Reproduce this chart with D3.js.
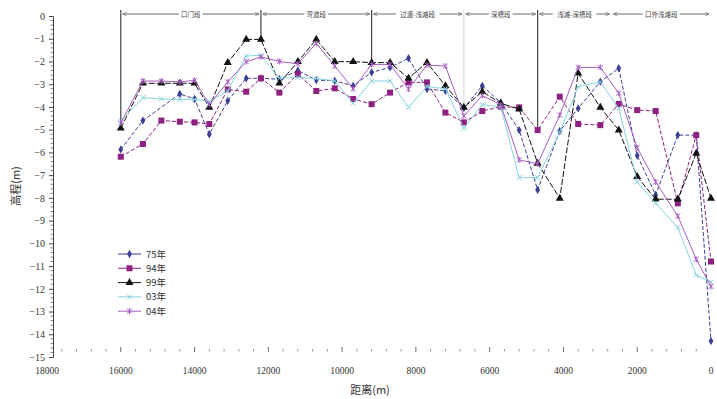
<!DOCTYPE html>
<html><head><meta charset="utf-8">
<script src="https://cdn.jsdelivr.net/npm/d3@7"></script>
<style>body{margin:0;background:#fff}svg{display:block}</style>
</head><body><svg id="c" width="717" height="399"></svg>
<script>
const distances = [16000,15400,14900,14400,14000,13600,13100,12600,12200,11700,11200,10700,10200,9700,9200,8700,8200,7700,7200,6700,6200,5700,5200,4700,4100,3600,3000,2500,2000,1500,900,400,0];
const y75 = [-5.87,-4.6,null,-3.43,-3.65,-5.2,-3.73,-2.74,-2.74,-2.78,-2.4,-2.82,-2.85,-3.07,-2.48,-2.26,-1.86,-3.21,-3.29,-4.05,-3.07,-3.81,-5.02,-7.65,-5.06,-4.06,-2.89,-2.3,-6.14,-7.87,-5.24,-5.24,-14.3];
const y94 = [-6.19,-5.63,-4.6,-4.65,-4.68,-4.75,-3.23,-3.33,-2.74,-3.37,-2.55,-3.3,-3.18,-3.65,-3.88,-3.37,-2.92,-2.92,-4.25,-4.68,-4.18,-3.99,-4.02,-5.02,-3.55,-4.75,-4.8,-3.87,-4.14,-4.18,-8.24,-5.24,-10.8];
const y99 = [-4.94,-2.96,-2.96,-2.96,-2.96,-4.02,-2.05,-1.03,-1.03,-2.96,-2.01,-1.03,-2.01,-2.01,-2.05,-2.05,-2.74,-2.05,-3.07,-4.02,-3.33,-3.84,-4.1,-6.48,-8.02,-2.52,-4.02,-5.02,-7.07,-8.06,-8.06,-6.04,-8.02];
const y03 = [-4.6,-3.59,-3.65,-3.67,-3.67,-3.76,-3.3,-1.76,-1.73,-2.74,-2.7,-2.75,-2.85,-3.84,-2.86,-2.86,-4.02,-3.1,-3.2,-4.94,-3.9,-4.0,-7.11,-7.11,-5.1,-3.11,-2.9,-4.06,-7.3,-8.24,-9.3,-11.4,-11.7];
const y04 = [-4.7,-2.86,-2.86,-2.9,-2.83,-3.9,-2.9,-2.01,-1.8,-2.0,-2.1,-1.2,-2.2,-3.2,-2.13,-2.13,-3.21,-2.16,-2.2,-4.4,-3.5,-3.9,-6.33,-6.5,-4.36,-2.26,-2.26,-3.4,-5.8,-7.3,-8.8,-10.7,-11.9];
const seriesNames = ["75年","94年","99年","03年","04年"];
const yTicks = [0,-1,-2,-3,-4,-5,-6,-7,-8,-9,-10,-11,-12,-13,-14,-15];
const xTicks = [18000,16000,14000,12000,10000,8000,6000,4000,2000,0];
const sectionBounds = [16000,12200,9200,6700,4700,2700,0];
const sectionNames = ["口门段","弯道段","过渡-浅滩段","深槽段","浅滩-深槽段","口外浅滩段"];
const dividerDist = [16000,12200,9200,6700,4700];
const dividerEnd = [-4.9,-1.0,-2.05,-4.0,-5.0];

const svg = d3.select("#c");
const x = d3.scaleLinear().domain([18000,0]).range([47,711]);
const y = d3.scaleLinear().domain([0,-15]).range([16,357]);
const serif = "'Liberation Serif','DejaVu Serif',serif";
const cjk = "'Noto Sans CJK SC','Liberation Serif',serif";

// y axis
const axX = 53;
const yAx = svg.append("g").attr("transform",`translate(${axX},0)`)
  .call(d3.axisLeft(y).tickValues(yTicks).tickSize(4).tickFormat(d=>d===0?"0":"\u2212"+Math.abs(d)));
yAx.select(".domain").attr("stroke","#444");
yAx.selectAll(".tick line").attr("stroke","#444");
yAx.selectAll("text").attr("font-family",serif).attr("font-size",10).attr("fill","#333").attr("x",-8);
const yMinor = d3.range(0,-15.01,-0.2).filter(v=>Math.abs(v-Math.round(v))>0.01);
svg.append("g").selectAll("line").data(yMinor).join("line")
  .attr("x1",axX-2.5).attr("x2",axX).attr("y1",d=>y(d)).attr("y2",d=>y(d)).attr("stroke","#666").attr("stroke-width",0.8);

// x axis (ticks only)
const tickY = 350;
const xMinor = d3.range(17600,0,-400).filter(v=>v%2000!==0);
svg.append("g").selectAll("line").data(xMinor).join("line")
  .attr("x1",d=>x(d)).attr("x2",d=>x(d)).attr("y1",tickY-1).attr("y2",tickY+1.5).attr("stroke","#777").attr("stroke-width",0.8);
svg.append("g").selectAll("line").data(xTicks.filter(d=>d!==18000&&d!==0)).join("line")
  .attr("x1",d=>x(d)).attr("x2",d=>x(d)).attr("y1",tickY-3).attr("y2",tickY+2).attr("stroke","#555").attr("stroke-width",0.9);
svg.append("g").selectAll("text").data(xTicks).join("text")
  .attr("x",d=>x(d)).attr("y",374).attr("text-anchor","middle")
  .attr("font-family",serif).attr("font-size",9.5).attr("fill","#333").text(d=>d);

// axis titles
svg.append("text").attr("transform","translate(20,186) rotate(-90)").attr("text-anchor","middle")
  .attr("font-family",cjk).attr("font-size",11).attr("fill","#333").text("高程(m)");
svg.append("text").attr("x",370).attr("y",394).attr("text-anchor","middle")
  .attr("font-family",cjk).attr("font-size",11).attr("fill","#333").text("距离(m)");

// divider lines
svg.append("g").selectAll("line").data(dividerDist).join("line")
  .attr("x1",d=>x(d)).attr("x2",d=>x(d)).attr("y1",10).attr("y2",(d,i)=>y(dividerEnd[i]))
  .attr("stroke",(d,i)=>i===3?"#ddd":"#444").attr("stroke-width",1.2);

// section annotation
const defs = svg.append("defs");
defs.append("marker").attr("id","ar").attr("viewBox","0 0 8 8").attr("refX",8).attr("refY",4)
  .attr("markerWidth",7).attr("markerHeight",5).attr("orient","auto-start-reverse")
  .append("path").attr("d","M0,0 L8,4 L0,8").attr("fill","none").attr("stroke","#444").attr("stroke-width",1);
const secs = sectionNames.map((n,i)=>({n,a:sectionBounds[i],b:sectionBounds[i+1]}));
const sg = svg.append("g");
sg.selectAll("line").data(secs).join("line")
  .attr("x1",d=>x(d.a)+2).attr("x2",d=>x(d.b)-2).attr("y1",14).attr("y2",14)
  .attr("stroke","#444").attr("stroke-width",0.8)
  .attr("marker-start","url(#ar)").attr("marker-end","url(#ar)");
sg.selectAll("rect").data(secs).join("rect")
  .attr("x",d=>(x(d.a)+x(d.b))/2-d.n.length*3.3-2).attr("y",10).attr("width",d=>d.n.length*6.6+4).attr("height",8).attr("fill","#fff");
sg.selectAll("text").data(secs).join("text")
  .attr("x",d=>(x(d.a)+x(d.b))/2).attr("y",17).attr("text-anchor","middle")
  .attr("font-family",cjk).attr("font-size",6.5).attr("fill","#444").text(d=>d.n);

// series
const cfg = [
  {vals:y75,color:"#3b3f8f",dash:"4,2",marker:"diamond"},
  {vals:y94,color:"#8e2180",dash:"4,2",marker:"square"},
  {vals:y99,color:"#111",dash:"6,2",marker:"triangle"},
  {vals:y03,color:"#86d2e0",dash:null,marker:"x"},
  {vals:y04,color:"#a55cc0",dash:null,marker:"star"}
];
function drawMarker(g,type,color){
  if(type==="diamond") g.append("path").attr("d",d3.symbol(d3.symbolDiamond,20)()).attr("fill",color);
  else if(type==="square") g.append("rect").attr("x",-3).attr("y",-3).attr("width",6).attr("height",6).attr("fill",color);
  else if(type==="triangle") g.append("path").attr("d",d3.symbol(d3.symbolTriangle,28)()).attr("fill",color);
  else if(type==="x") g.append("path").attr("d","M-2.5,-2.5L2.5,2.5M-2.5,2.5L2.5,-2.5").attr("stroke",color).attr("stroke-width",1);
  else g.append("path").attr("d","M-2.5,-2.5L2.5,2.5M-2.5,2.5L2.5,-2.5M0,-3L0,3").attr("stroke",color).attr("stroke-width",1);
}
const line = d3.line().x(d=>x(d[0])).y(d=>y(d[1]));
cfg.forEach(c=>{
  const pts = distances.map((d,i)=>[d,c.vals[i]]).filter(p=>p[1]!==null);
  svg.append("path").datum(pts).attr("d",line).attr("fill","none").attr("stroke",c.color)
    .attr("stroke-width",1).attr("stroke-dasharray",c.dash);
  pts.forEach(p=>{
    const g = svg.append("g").attr("transform",`translate(${x(p[0])},${y(p[1])})`);
    drawMarker(g,c.marker,c.color);
  });
});

// legend
const lg = svg.append("g");
cfg.forEach((c,i)=>{
  const ly = 254 + i*14.3;
  lg.append("line").attr("x1",118).attr("x2",141).attr("y1",ly).attr("y2",ly).attr("stroke",c.color).attr("stroke-width",1);
  drawMarker(lg.append("g").attr("transform",`translate(129.5,${ly})`),c.marker,c.color);
  lg.append("text").attr("x",146).attr("y",ly+3.5).attr("font-family",cjk).attr("font-size",9.5).attr("fill","#333").text(seriesNames[i]);
});
</script></body></html>
